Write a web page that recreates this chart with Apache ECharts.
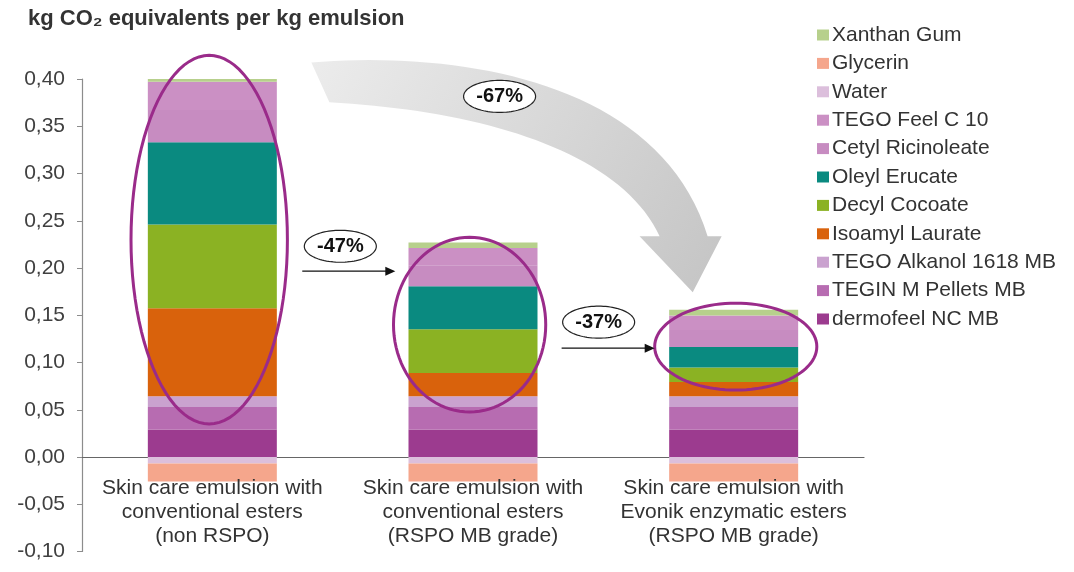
<!DOCTYPE html>
<html><head><meta charset="utf-8">
<script src="https://cdn.jsdelivr.net/npm/echarts/dist/echarts.min.js"></script>
<style>html,body{margin:0;padding:0;background:#fff}#c{width:1074px;height:572px}</style>
</head><body><div id="c"></div>
<script>
// ---- data ----
const categories = [
  'Skin care emulsion with\nconventional esters\n(non RSPO)',
  'Skin care emulsion with\nconventional esters\n(RSPO MB grade)',
  'Skin care emulsion with\nEvonik enzymatic esters\n(RSPO MB grade)'
];
// stacked bottom -> top
const seriesNames = ['dermofeel NC MB','TEGIN M Pellets MB','TEGO Alkanol 1618 MB','Isoamyl Laurate','Decyl Cocoate','Oleyl Erucate','Cetyl Ricinoleate','TEGO Feel C 10','Water','Glycerin','Xanthan Gum'];
const dermofeel        = [0.029, 0.029, 0.029];
const teginPellets     = [0.024, 0.024, 0.024];
const tegoAlkanol      = [0.0113, 0.0113, 0.0113];
const isoamylLaurate   = [0.093, 0.0246, 0.0151];
const decylCocoate     = [0.0888, 0.0462, 0.0152];
const oleylErucate     = [0.087, 0.0457, 0.0218];
const cetylRicinoleate = [0.034, 0.022, 0.018];
const tegoFeelC10      = [0.030, 0.0183, 0.0154];
const water            = [-0.007, -0.007, -0.007];
const glycerin         = [-0.019, -0.019, -0.019];
const xanthanGum       = [0.006, 0.006, 0.006];
const seriesValues = [dermofeel, teginPellets, tegoAlkanol, isoamylLaurate, decylCocoate, oleylErucate, cetylRicinoleate, tegoFeelC10, water, glycerin, xanthanGum];
const legendOrder = ['Xanthan Gum','Glycerin','Water','TEGO Feel C 10','Cetyl Ricinoleate','Oleyl Erucate','Decyl Cocoate','Isoamyl Laurate','TEGO Alkanol 1618 MB','TEGIN M Pellets MB','dermofeel NC MB'];
const yMin = -0.10, yMax = 0.40, yStep = 0.05;
const reductionLabels = ['-47%', '-37%', '-67%'];

// ---- styles ----
const colors = {
  'dermofeel NC MB':'#9c3b8f','TEGIN M Pellets MB':'#b76cb1','TEGO Alkanol 1618 MB':'#caa2cf',
  'Isoamyl Laurate':'#d9620c','Decyl Cocoate':'#8bb223','Oleyl Erucate':'#0a8a80',
  'Cetyl Ricinoleate':'#c78cc1','TEGO Feel C 10':'#cb90c4','Water':'#dcbfdc',
  'Glycerin':'#f5a68c','Xanthan Gum':'#b7d08c'
};
const FONT = '"Liberation Sans", Arial, sans-serif';

const chart = echarts.init(document.getElementById('c'));
const option = {
  animation:false,
  backgroundColor:'#fff',
  title:{text:'kg CO\u2082 equivalents per kg emulsion', left:28, top:8, padding:0,
    textStyle:{fontFamily:FONT, fontSize:22, fontWeight:'bold', color:'#333'}},
  legend:{orient:'vertical', left:817, top:24, padding:0, data:legendOrder, icon:'rect',
    itemWidth:12, itemHeight:11, itemGap:6.4,
    textStyle:{fontFamily:FONT, fontSize:21, color:'#333', lineHeight:22, padding:[0,0,0,-2]}},
  grid:{left:82, right:210, top:79, bottom:20.5},
  xAxis:{type:'category', data:categories,
    axisLine:{onZero:true, lineStyle:{color:'#666', width:1.2}},
    axisTick:{show:false},
    axisLabel:{show:false}},
  yAxis:{type:'value', min:yMin, max:yMax, interval:yStep,
    splitLine:{show:false},
    axisLine:{show:true, lineStyle:{color:'#8c8c8c', width:1.2}},
    axisTick:{show:true, length:5, lineStyle:{color:'#8c8c8c'}},
    axisLabel:{fontFamily:FONT, fontSize:21, color:'#404040', margin:17,
      formatter:function(v){return v.toFixed(2).replace('.',',');}}},
  series: seriesNames.map((n,i)=>({
    name:n, type:'bar', stack:'total', barWidth:129, data:seriesValues[i],
    itemStyle:{color:colors[n]}
  }))
};
chart.setOption(option);

// ---- annotations anchored to the chart's scales ----
function P(c, v){
  const a = chart.convertToPixel({xAxisIndex:0, yAxisIndex:0}, [0, v]);
  const b = chart.convertToPixel({xAxisIndex:0, yAxisIndex:0}, [1, v]);
  return [a[0] + c*(b[0]-a[0]), a[1]];
}
function ellipsePts(cx, cy, rx, ry){
  const pts = [];
  for (let i = 0; i < 96; i++) { const t = i/96*2*Math.PI; pts.push([cx + rx*Math.cos(t), cy + ry*Math.sin(t)]); }
  return pts;
}
function cubicPts(p0, p1, p2, p3, n){
  const pts = [];
  for (let i = 0; i <= n; i++) {
    const t = i/n, u = 1-t;
    pts.push([u*u*u*p0[0] + 3*u*u*t*p1[0] + 3*u*t*t*p2[0] + t*t*t*p3[0],
              u*u*u*p0[1] + 3*u*u*t*p1[1] + 3*u*t*t*p2[1] + t*t*t*p3[1]]);
  }
  return pts;
}
const circled = [
  {c:-0.012, lo:0.035, hi:0.425, hw:0.300},
  {c:0.987, lo:0.0476, hi:0.2325, hw:0.292},
  {c:2.008, lo:0.0708, hi:0.1628, hw:0.311}
];
const bigArrow = [[0.380,0.4175],[0.948,0.4302],[1.716,0.3985],[1.900,0.2336],[1.954,0.2336],[1.843,0.1744],[1.639,0.2336],[1.716,0.2336],[1.562,0.3245],[1.025,0.3668],[0.449,0.3753]];
const smallArrows = [[[0.345,0.1966],[0.702,0.1966]],[[1.340,0.1152],[1.697,0.1152]]];
const labelPos = [[0.491,0.2230],[1.482,0.1427],[1.102,0.3816]];

try {
const step = P(1,0)[0]-P(0,0)[0];
const g = [];
// category labels under the zero line, placed through the category axis
categories.forEach((name,i)=>{
  const p = P(i, 0);
  g.push({type:'text', z:5, x:p[0], y:p[1]+19, style:{text:name, fontFamily:FONT, fontSize:21, lineHeight:24, fill:'#333', align:'center', verticalAlign:'top'}});
});
const q = bigArrow.map(p=>P(p[0],p[1]));
const arrowPts = [].concat(cubicPts(q[0],q[1],q[2],q[3],40), [q[4], q[5], q[6]], cubicPts(q[7],q[8],q[9],q[10],40));
g.push({type:'polygon', z:1, shape:{points:arrowPts},
  style:{fill:{type:'linear', x:0, y:0, x2:1, y2:1, colorStops:[{offset:0,color:'#ececec'},{offset:1,color:'#c4c4c4'}]}}});
circled.forEach(e=>{
  const top=P(e.c,e.hi), bot=P(e.c,e.lo);
  g.push({type:'polygon', z:50, shape:{points:ellipsePts(top[0], (top[1]+bot[1])/2, e.hw*step, (bot[1]-top[1])/2)},
    style:{fill:'transparent', stroke:'#9a2b8a', lineWidth:3}});
});
smallArrows.forEach(a=>{
  const s=P(a[0][0],a[0][1]), t=P(a[1][0],a[1][1]);
  g.push({type:'line', z:50, shape:{x1:s[0],y1:s[1],x2:t[0]-8,y2:t[1]}, style:{stroke:'#111', lineWidth:1.3}});
  g.push({type:'polygon', z:50, shape:{points:[[t[0],t[1]],[t[0]-10,t[1]-4.5],[t[0]-10,t[1]+4.5]]}, style:{fill:'#111'}});
});
labelPos.forEach((p,i)=>{
  const c=P(p[0],p[1]);
  g.push({type:'polygon', z:60, shape:{points:ellipsePts(c[0],c[1],36,16)}, style:{fill:'#fff', stroke:'#222', lineWidth:1.2}});
  g.push({type:'text', z:61, x:c[0], y:c[1], style:{text:reductionLabels[i], fontFamily:FONT, fontSize:20, fontWeight:'bold', fill:'#111', align:'center', verticalAlign:'middle'}});
});
chart.setOption({graphic:{elements:g}});
} catch(err) { setTimeout(function(){ throw err; }, 0); }
</script>
</body></html>
